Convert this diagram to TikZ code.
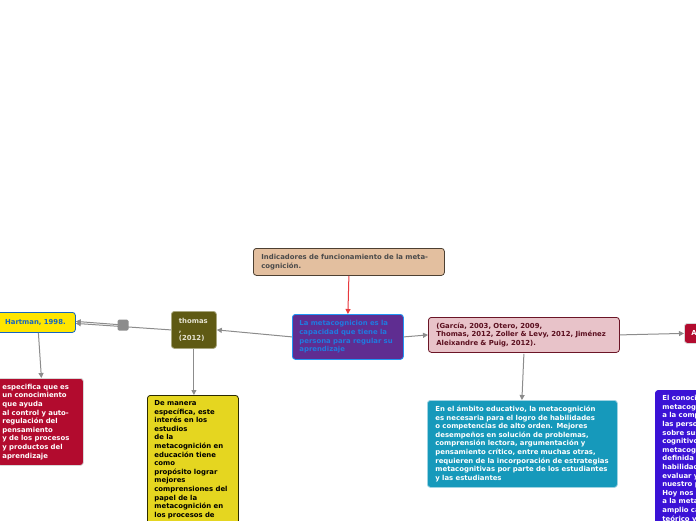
\documentclass[tikz,border=0pt]{standalone}
\usepackage{fontspec}
\setmainfont{DejaVu Sans}
\usetikzlibrary{arrows.meta}
\definecolor{tanfill}{HTML}{E3BF9F}
\definecolor{tanline}{HTML}{4D4032}
\definecolor{tantext}{HTML}{4A4A4A}
\definecolor{purp}{HTML}{5F2D91}
\definecolor{purpline}{HTML}{2196F3}
\definecolor{purptext}{HTML}{1F7BE0}
\definecolor{olive}{HTML}{5F5A14}
\definecolor{oliveline}{HTML}{A8A67E}
\definecolor{olivetext}{HTML}{E6E4D2}
\definecolor{hyellow}{HTML}{FFE600}
\definecolor{hblue}{HTML}{1565C0}
\definecolor{crim}{HTML}{B20B2E}
\definecolor{crimline}{HTML}{D8D8D8}
\definecolor{yfill}{HTML}{E5D620}
\definecolor{yline}{HTML}{2A2A00}
\definecolor{pinkfill}{HTML}{E8C3C9}
\definecolor{pinkline}{HTML}{6B1526}
\definecolor{pinktext}{HTML}{5A0E1E}
\definecolor{teal}{HTML}{1699BB}
\definecolor{tealline}{HTML}{9FD3E2}
\definecolor{bluefill}{HTML}{3B12D6}
\definecolor{conn}{HTML}{8C8C8C}
\definecolor{redconn}{HTML}{E8383D}
\tikzset{
  box/.style={rounded corners=3pt, anchor=north west, align=left, inner xsep=8pt, inner ysep=5pt,
    font=\fontsize{6.9}{8.6}\selectfont\bfseries, line width=0.8pt},
  graycon/.style={draw=conn, line width=1pt, -{Triangle[length=5pt,width=5pt]}},
  redcon/.style={draw=redconn, line width=1pt, -{Triangle[length=5pt,width=5pt]}}
}
\begin{document}
\begin{tikzpicture}[x=1pt,y=-1pt]
\useasboundingbox (0,0) rectangle (696,520);
\clip (0,0) rectangle (696,520);
\fill[white] (0,0) rectangle (696,520);

\node[box, fill=tanfill, draw=tanline, text=tantext, minimum width=191pt, minimum height=27pt, text width=175pt] (ind) at (253,248)
  {Indicadores de funcionamiento de la meta-\\cognición.};
\node[box, fill=purp, draw=purpline, text=purptext, minimum width=111pt, minimum height=45pt, text width=97pt, inner xsep=7pt] (cen) at (292,314)
  {La metacognicion es la\\capacidad que tiene la\\persona para regular su\\aprendizaje};
\node[box, fill=olive, draw=oliveline, text=olivetext, minimum width=45pt, minimum height=37pt, text width=30pt, inner xsep=7.5pt] (tho) at (171,311)
  {thomas\\,\\(2012)};
\node[box, fill=hyellow, draw=hblue, text=hblue, minimum width=80pt, minimum height=20pt, text width=66pt, inner xsep=7pt, align=center] (har) at (-5,312)
  {Hartman, 1998.};
\node[fill=conn, rounded corners=1.5pt, minimum size=11pt, inner sep=0pt] (sq) at (123,325) {};
\node[box, fill=crim, draw=crimline, text=white, minimum width=86pt, minimum height=87pt, text width=76pt, inner xsep=5pt] (redl) at (-3,378)
  {especifica que es\\un conocimiento\\que ayuda\\al control y auto-\\regulación del\\pensamiento\\y de los procesos\\y productos del\\aprendizaje};
\node[box, fill=yfill, draw=yline, text=black, minimum width=91pt, text width=77pt, inner xsep=7pt, inner ysep=5pt] (yel) at (147,395)
  {De manera\\específica, este\\interés en los\\estudios\\de la\\metacognición en\\educación tiene\\como\\propósito lograr\\mejores\\comprensiones del\\papel de la\\metacognición en\\los procesos de\\\strut\\\strut};
\node[box, fill=pinkfill, draw=pinkline, text=pinktext, minimum width=191pt, minimum height=35pt, text width=175pt] (pin) at (428,317)
  {(García, 2003, Otero, 2009,\\Thomas, 2012, Zoller \& Levy, 2012, Jiménez\\Aleixandre \& Puig, 2012).};
\node[box, fill=teal, draw=tealline, text=white, minimum width=190pt, minimum height=87pt, text width=174pt] (tea) at (427,400)
  {En el ámbito educativo, la metacognición\\es necesaria para el logro de habilidades\\o competencias de alto orden. Mejores\\desempeños en solución de problemas,\\comprensión lectora, argumentación y\\pensamiento crítico, entre muchas otras,\\requieren de la incorporación de estrategias\\metacognitivas por parte de los estudiantes\\y las estudiantes};
\node[box, fill=crim, draw=crimline, text=white, minimum width=50pt, minimum height=20pt, text width=36pt, inner xsep=7pt] (redr) at (684,323)
  {Autores};
\node[box, fill=bluefill, draw=bluefill, text=white, minimum width=140pt, text width=126pt, inner xsep=7pt, inner ysep=5pt] (blu) at (655,390)
  {El conocimiento\\metacognitivo se refiere\\a la comprensión que\\las personas tienen\\sobre sus procesos\\cognitivos. El conocimiento\\metacognitivo ha sido\\definida como la\\habilidad para planificar,\\evaluar y controlar\\nuestro pensamiento.\\Hoy nos referimos\\a la metacognición en un\\amplio campo\\ teórico y práctico\\\strut};

\draw[redcon] (ind.south) -- (cen.north);
\draw[graycon] (cen.west) -- (tho.east);
\draw[graycon] (tho.west) -- ([yshift=-1pt]har.east);
\draw[graycon] (sq.center) -- ([yshift=1pt]har.east);
\draw[graycon] ([xshift=3pt]har.south) -- ([xshift=1pt]redl.north);
\draw[graycon] (tho.south) -- ([xshift=1pt]yel.north);
\draw[graycon] (cen.east) -- (pin.west);
\draw[graycon] ([yshift=-1pt]pin.south) -- ([xshift=-0.5pt]tea.north);
\draw[graycon] (pin.east) -- (redr.west);
\end{tikzpicture}
\end{document}
